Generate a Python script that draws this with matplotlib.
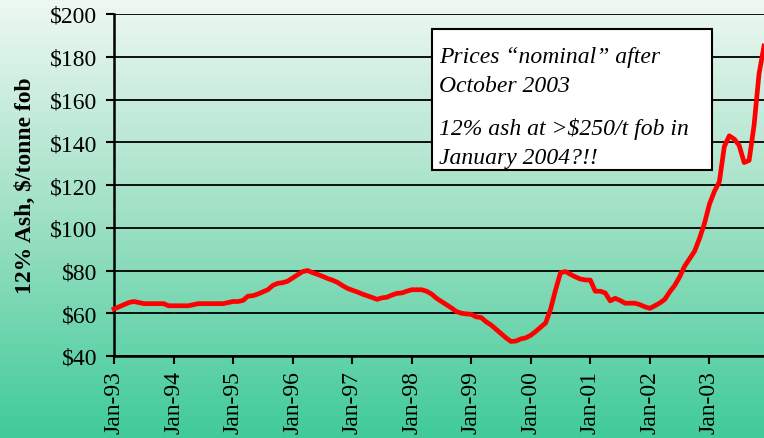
import numpy as np
import matplotlib
matplotlib.use("Agg")
import matplotlib.pyplot as plt
from matplotlib.colors import LinearSegmentedColormap
from matplotlib.patches import Rectangle

# monthly prices, Jan-93 .. Dec-03 ($/tonne fob, 12% ash)
prices = [
    62, 63, 64, 65, 65.5, 65, 64.5, 64.5, 64.5, 64.5, 64.5, 63.5,      # 1993
    63.5, 63.5, 63.5, 63.5, 64, 64.5, 64.5, 64.5, 64.5, 64.5, 64.5, 65,  # 1994
    65.5, 65.5, 66, 68, 68.2, 69, 70, 71, 73, 74, 74.3, 75,            # 1995
    76.5, 78, 79.5, 80, 79, 78.2, 77.3, 76.3, 75.5, 74.5, 73, 71.7,    # 1996
    70.8, 70, 69, 68.2, 67.4, 66.5, 67.2, 67.5, 68.5, 69.3, 69.5, 70.3,  # 1997
    71, 71, 71, 70.3, 69, 67, 65.5, 64, 62.5, 60.8, 60, 59.7,          # 1998
    59.5, 58.3, 58, 56, 54.5, 52.5, 50.5, 48.5, 46.8, 47, 48, 48.5,    # 1999
    49.7, 51.5, 53.5, 55.5, 62, 71, 79, 79.5, 78.2, 77, 76, 75.6,      # 2000
    75.5, 70.3, 70.3, 69.5, 65.8, 67, 66, 64.7, 64.7, 64.7, 64, 63,    # 2001
    62.3, 63.5, 64.8, 66.5, 70, 73, 77, 82, 85.5, 89, 95, 102,         # 2002
    111, 117, 121.5, 138, 143, 141.5, 138.5, 130.5, 131.5, 148, 172, 185,  # 2003
]
months = np.arange(len(prices))
tick_labels = ['Jan-93', 'Jan-94', 'Jan-95', 'Jan-96', 'Jan-97', 'Jan-98',
               'Jan-99', 'Jan-00', 'Jan-01', 'Jan-02', 'Jan-03']
y_ticks = [40, 60, 80, 100, 120, 140, 160, 180, 200]

plt.rcParams['font.family'] = ['Liberation Serif', 'DejaVu Serif']

fig = plt.figure(figsize=(7.64, 4.39), dpi=100)

# vertical gradient background
bg = fig.add_axes([0, 0, 1, 1], zorder=-1)
cmap = LinearSegmentedColormap.from_list('bg', ['#40cb98', '#9ee0c4', '#eef8f2'])
grad = np.linspace(0, 1, 256).reshape(-1, 1)
bg.imshow(grad, aspect='auto', cmap=cmap, origin='lower', extent=[0, 1, 0, 1])
bg.axis('off')

ax = fig.add_axes([114 / 764, 82 / 439, 1 - 114 / 764, 342 / 439])
ax.patch.set_alpha(0)

ax.plot(months, prices, color='#ff0000', linewidth=3.4, zorder=3, clip_on=False)

ax.set_xlim(0, 131)
ax.set_ylim(40, 200)
ax.set_yticks(y_ticks)
ax.set_yticklabels(['$%d' % v for v in y_ticks], fontsize=17)
ax.set_xticks(np.arange(0, 132, 12))
ax.set_xticklabels(tick_labels, rotation=90, fontsize=17)
ax.yaxis.grid(True, color='black', linewidth=1.3)
ax.set_axisbelow(True)
for s in ['top', 'right']:
    ax.spines[s].set_visible(False)
for s in ['left', 'bottom']:
    ax.spines[s].set_linewidth(1.8)
ax.tick_params(axis='both', direction='out', length=6, width=1.5, colors='black')
ax.tick_params(axis='y', pad=6)
ax.tick_params(axis='x', pad=4)

ax.set_ylabel('12% Ash, $/tonne fob', fontsize=17, fontweight='bold', labelpad=10)

# note box
fig.patches.append(Rectangle((432 / 764, 1 - 171 / 439), 280 / 764, 141 / 439,
                             transform=fig.transFigure, facecolor='white',
                             edgecolor='black', linewidth=1.5, zorder=5))
fig.text(439 / 764, 1 - 47 / 439, 'Prices \u201cnominal\u201d after\nOctober 2003',
         fontsize=17, style='italic', va='top', ha='left', linespacing=1.5, zorder=6)
fig.text(439 / 764, 1 - 118 / 439, '12% ash at >$250/t fob in\nJanuary 2004?!!',
         fontsize=17, style='italic', va='top', ha='left', linespacing=1.5, zorder=6)

plt.savefig('out.png', dpi=100)
